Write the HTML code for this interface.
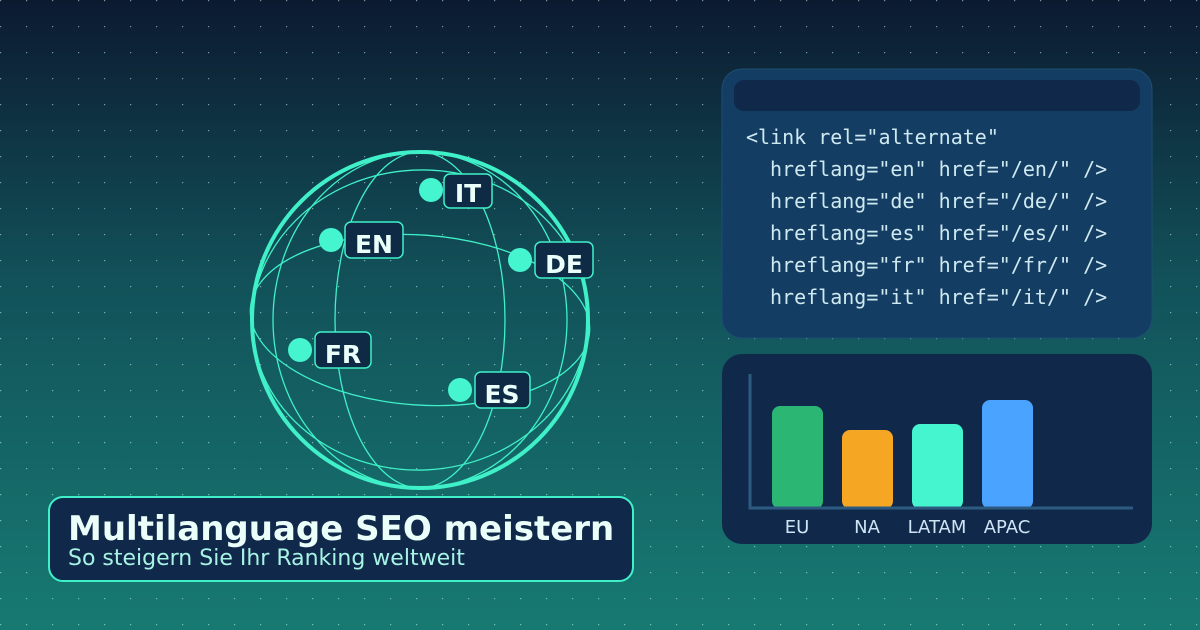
<!DOCTYPE html>
<html><head><meta charset="utf-8"><style>
html,body{margin:0;padding:0;}
body{width:1200px;height:630px;overflow:hidden;}
svg{display:block;}
</style></head><body>
<svg width="1200" height="630" viewBox="0 0 1200 630" xmlns="http://www.w3.org/2000/svg">
<defs>
<linearGradient id="bg" x1="0" y1="0" x2="0" y2="1">
<stop offset="0" stop-color="#0c1a30"/>
<stop offset="0.45" stop-color="#12525a"/>
<stop offset="1" stop-color="#177a72"/>
</linearGradient>
<pattern id="dots" width="26" height="26" patternUnits="userSpaceOnUse">
<rect x="0" y="0" width="1.2" height="1.2" fill="#cfe" fill-opacity="0.55"/>
</pattern>
</defs>
<rect width="1200" height="630" fill="url(#bg)"/>
<rect width="1200" height="630" fill="url(#dots)"/>

<g fill="none" stroke="#3ff0c8">
<circle cx="420" cy="320" r="168" stroke-width="4"/>
<ellipse cx="420" cy="320" rx="85" ry="168" stroke-width="1.3"/>
<ellipse cx="420" cy="320" rx="147" ry="168" stroke-width="1.3"/>
<ellipse cx="420" cy="320" rx="170" ry="85" stroke-width="1.3" transform="rotate(4 420 320)"/>
<ellipse cx="420" cy="320" rx="168" ry="150" stroke-width="1.3" transform="rotate(-3 420 320)"/>
</g>
<g font-family="'DejaVu Sans','Liberation Sans',sans-serif" font-weight="bold" font-size="25" fill="#eafffa">
<circle cx="431" cy="190" r="12" fill="#45f5d0"/>
<rect x="444" y="174" width="48" height="34" rx="6" fill="#0f2a45" stroke="#3ff0c8" stroke-width="1.5"/>
<text x="468" y="202" text-anchor="middle">IT</text>
<circle cx="331" cy="240" r="12" fill="#45f5d0"/>
<rect x="345" y="222" width="58" height="36" rx="6" fill="#0f2a45" stroke="#3ff0c8" stroke-width="1.5"/>
<text x="374" y="253" text-anchor="middle">EN</text>
<circle cx="520" cy="260" r="12" fill="#45f5d0"/>
<rect x="535" y="242" width="58" height="36" rx="6" fill="#0f2a45" stroke="#3ff0c8" stroke-width="1.5"/>
<text x="564" y="273" text-anchor="middle">DE</text>
<circle cx="300" cy="350" r="12" fill="#45f5d0"/>
<rect x="315" y="332" width="56" height="36" rx="6" fill="#0f2a45" stroke="#3ff0c8" stroke-width="1.5"/>
<text x="343" y="363" text-anchor="middle">FR</text>
<circle cx="460" cy="390" r="12" fill="#45f5d0"/>
<rect x="475" y="372" width="55" height="36" rx="6" fill="#0f2a45" stroke="#3ff0c8" stroke-width="1.5"/>
<text x="502" y="403" text-anchor="middle">ES</text>
</g>

<rect x="49" y="497" width="584" height="84" rx="14" fill="#10284a" stroke="#3ff0c8" stroke-width="2"/>
<text x="68" y="540" font-family="'DejaVu Sans','Liberation Sans',sans-serif" font-weight="bold" font-size="34" fill="#eafffa">Multilanguage SEO meistern</text>
<text x="68" y="565" font-family="'DejaVu Sans','Liberation Sans',sans-serif" font-size="22" fill="#a7f3e4">So steigern Sie Ihr Ranking weltweit</text>

<rect x="722" y="69" width="430" height="269" rx="20" fill="#143d63" stroke="#1d4e70" stroke-width="1"/>
<rect x="734" y="80" width="406" height="31" rx="10" fill="#10294a"/>
<g font-family="'DejaVu Sans Mono','Liberation Mono',monospace" font-size="20" fill="#cfe9f0" xml:space="preserve">
<text x="746" y="144">&lt;link rel="alternate"</text>
<text x="770" y="176">hreflang="en" href="/en/" /&gt;</text>
<text x="770" y="208">hreflang="de" href="/de/" /&gt;</text>
<text x="770" y="240">hreflang="es" href="/es/" /&gt;</text>
<text x="770" y="272">hreflang="fr" href="/fr/" /&gt;</text>
<text x="770" y="304">hreflang="it" href="/it/" /&gt;</text>
</g>

<rect x="722" y="354" width="430" height="190" rx="20" fill="#10294a"/>
<rect x="772" y="406" width="51" height="103" rx="8" fill="#2bb673"/>
<rect x="842" y="430" width="51" height="79" rx="8" fill="#f5a623"/>
<rect x="912" y="424" width="51" height="85" rx="8" fill="#45f5d0"/>
<rect x="982" y="400" width="51" height="109" rx="8" fill="#4aa3ff"/>
<path d="M750 374 V508 H1133" fill="none" stroke="#2d5a80" stroke-width="3"/>
<g font-family="'DejaVu Sans','Liberation Sans',sans-serif" font-size="18" fill="#cfe4f5" text-anchor="middle">
<text x="797" y="533">EU</text>
<text x="867" y="533">NA</text>
<text x="937" y="533">LATAM</text>
<text x="1007" y="533">APAC</text>
</g>
</svg>
</body></html>
